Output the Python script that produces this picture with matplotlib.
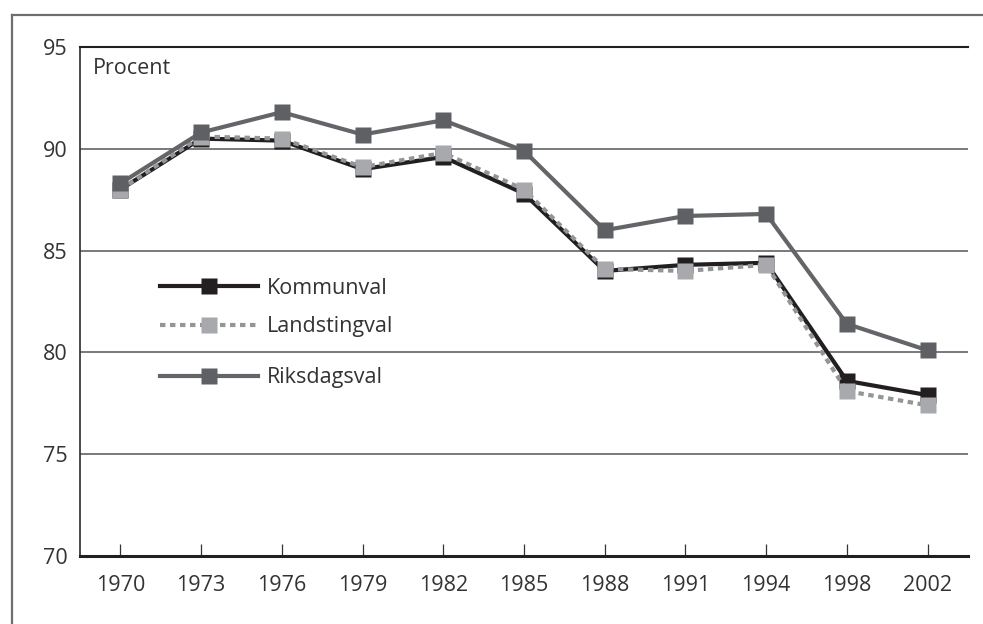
import matplotlib
matplotlib.use('Agg')
import matplotlib.pyplot as plt
from matplotlib.lines import Line2D

plt.rcParams['font.family'] = ['Open Sans', 'DejaVu Sans']

# =========================
# DATA
# =========================
years = ["1970", "1973", "1976", "1979", "1982", "1985", "1988", "1991", "1994", "1998", "2002"]
kommunval = [88.0, 90.5, 90.4, 89.0, 89.6, 87.8, 84.0, 84.3, 84.4, 78.6, 77.9]
landstingval = [88.0, 90.6, 90.5, 89.1, 89.8, 88.0, 84.1, 84.0, 84.3, 78.1, 77.4]
riksdagsval = [88.3, 90.8, 91.8, 90.7, 91.4, 89.9, 86.0, 86.7, 86.8, 81.4, 80.1]
yticks = [70, 75, 80, 85, 90, 95]

TXT = "#333333"
FS = 15.5

fig = plt.figure(figsize=(9.83, 6.24), dpi=100)
ax = fig.add_axes([0.0814, 0.109, 0.9033, 0.8157])

x = list(range(len(years)))

# grid lines (drawn below data)
for v in yticks[1:-1]:
    ax.axhline(v, color="#6d6e71", lw=1.3, zorder=1)

l_k, = ax.plot(x, kommunval, color="#231f20", lw=3.0, marker="s", ms=12,
               mec="none", mfc="#231f20", zorder=3, label="Kommunval")
l_l, = ax.plot(x, landstingval, color="#939598", lw=3.0, ls=(0, (1.3, 1.1)),
               marker="s", ms=12, mec="none", mfc="#a7a9ac", zorder=4,
               label="Landstingval")
l_r, = ax.plot(x, riksdagsval, color="#646568", lw=3.0, marker="s", ms=12,
               mec="none", mfc="#5f6063", zorder=5, label="Riksdagsval")

ax.set_xlim(-0.5, 10.5)
ax.set_ylim(70, 95)
ax.set_xticks(x)
ax.set_xticklabels(years)
ax.set_yticks(yticks)

ax.tick_params(axis="x", direction="in", length=9, width=0.9, color="#333333",
               pad=14, labelsize=FS, labelcolor=TXT)
ax.tick_params(axis="y", length=0, pad=9, labelsize=FS, labelcolor=TXT)

ax.spines["right"].set_visible(False)
ax.spines["top"].set_color("#231f20")
ax.spines["top"].set_linewidth(1.5)
ax.spines["left"].set_color("#3a3a3a")
ax.spines["left"].set_linewidth(1.3)
ax.spines["bottom"].set_color("#231f20")
ax.spines["bottom"].set_linewidth(2.2)

ax.text(0.015, 0.958, "Procent", transform=ax.transAxes, ha="left", va="center",
        fontsize=FS, color=TXT)

# legends
leg1 = ax.legend(handles=[l_k, l_l], loc="center left", bbox_to_anchor=(0.09, 0.488),
                 frameon=False, fontsize=FS, handlelength=4.55, handletextpad=0.4,
                 borderpad=0, borderaxespad=0, labelspacing=0.82, numpoints=1,
                 labelcolor=TXT)
ax.add_artist(leg1)
ax.legend(handles=[l_r], loc="center left", bbox_to_anchor=(0.09, 0.35),
          frameon=False, fontsize=FS, handlelength=4.55, handletextpad=0.4,
          borderpad=0, borderaxespad=0, numpoints=1, labelcolor=TXT)

# outer frame (top and left only, as in the source)
fig.add_artist(Line2D([0.0122, 1.0], [0.976, 0.976], transform=fig.transFigure,
                      color="#6d6e71", lw=1.6))
fig.add_artist(Line2D([0.0122, 0.0122], [0.0, 0.976], transform=fig.transFigure,
                      color="#6d6e71", lw=1.6))

plt.savefig("out.png", dpi=100)
plt.close()
